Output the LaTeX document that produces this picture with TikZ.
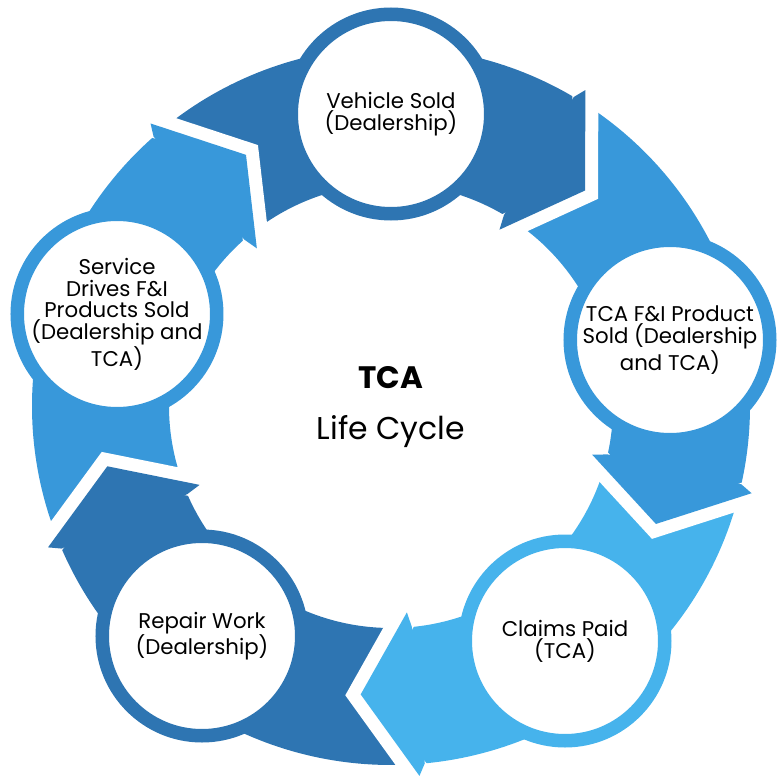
\documentclass[tikz,border=0pt]{standalone}
\usepackage{fontspec}
\setmainfont{Poppins}
\definecolor{ring_dark}{RGB}{46,117,178}
\definecolor{ring_mid}{RGB}{56,152,218}
\definecolor{ring_light}{RGB}{70,179,236}
\newcommand\gapang{10.4}
\begin{document}
\begin{tikzpicture}[x=1pt,y=1pt]
    \tikzstyle{stage}=[circle, draw, line width=13.5pt, fill=white, minimum size=199.5pt, inner sep=0pt]
    \tikzstyle{tag}=[align=center, text=black, font=\fontsize{21.3}{21.8}\selectfont]
    \useasboundingbox (-391,-371) rectangle (388,406);

    % ring pieces
    \foreach \tip/\col in {48/ring_dark,-24/ring_mid,-96/ring_light,-168/ring_dark,-240/ring_mid}{
      \pgfmathsetmacro\angA{\tip+72+\gapang}
      \pgfmathsetmacro\angB{\tip+\gapang}
      \fill[\col] (\angA:359) arc[start angle=\angA, end angle=\angB, radius=359pt]
        -- (\angB:222) arc[start angle=\angB, end angle=\angA, radius=222pt] -- cycle;
    }
    % heads, white gap first
    \foreach \tip/\col in {48/ring_dark,-24/ring_mid,-96/ring_light,-168/ring_dark,-240/ring_mid}{
      \pgfmathsetmacro\angB{\tip+\gapang}
      \pgfmathsetmacro\angC{\tip+\gapang+1}
      \draw[white, line width=26pt, line join=miter] (\angB:371) -- (\tip:290) -- (\angB:207);
      \fill[\col] (\angC:359) -- (\angB:371) -- (\tip:290) -- (\angB:207) -- (\angC:222) -- cycle;
    }

    \node[stage, draw=ring_dark]  (vehicle) at (0,292)     {};
    \node[stage, draw=ring_mid]   (product) at (279,66)    {};
    \node[stage, draw=ring_light] (claims)  at (174,-235)  {};
    \node[stage, draw=ring_dark]  (repair)  at (-189,-230) {};
    \node[stage, draw=ring_mid]   (service) at (-274,92)   {};

    \node[tag] (vehicletxt) at (vehicle) {Vehicle Sold\\(Dealership)};
    \node[tag] (producttxt) at (product) {TCA F\&I Product\\Sold (Dealership\\and TCA)};
    \node[tag] (claimstxt)  at (claims)  {Claims Paid\\(TCA)};
    \node[tag] (repairtxt)  at (repair)  {Repair Work\\(Dealership)};
    \node[tag] (servicetxt) at (service) {Service\\Drives F\&I\\Products Sold\\(Dealership and\\TCA)};

    \node[font=\bfseries\fontsize{31}{33}\selectfont] (title)    at (0,28)  {TCA};
    \node[font=\fontsize{31.5}{34}\selectfont]        (subtitle) at (0,-26) {Life Cycle};
\end{tikzpicture}
\end{document}
